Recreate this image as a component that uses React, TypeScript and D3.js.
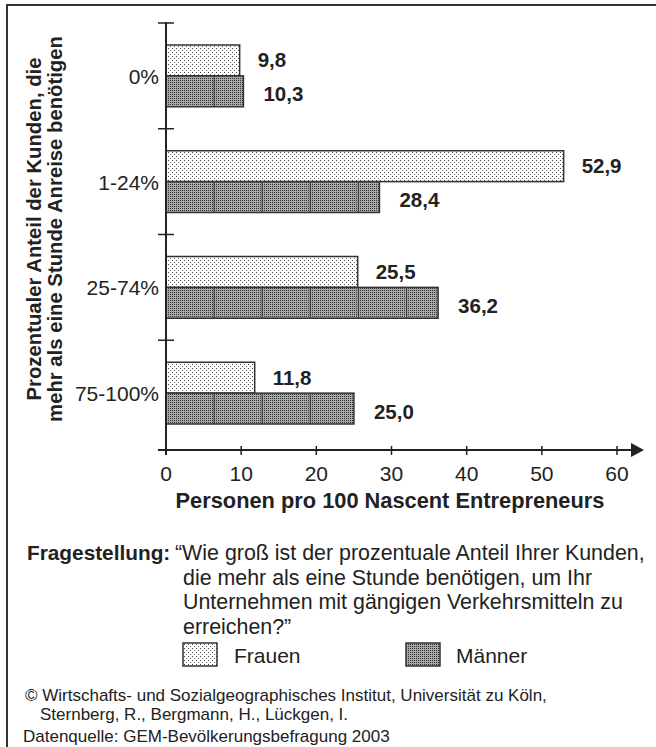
import React, { useEffect } from "react";
import * as d3 from "d3";

const categories = ["0%", "1-24%", "25-74%", "75-100%"];
const series = ["Frauen", "Männer"];
const frauen = [9.8, 52.9, 25.5, 11.8];
const maenner = [10.3, 28.4, 36.2, 25.0];
const xTicks = [0, 10, 20, 30, 40, 50, 60];
const dividerStep = 6.4;
const yTitle = ["Prozentualer Anteil der Kunden, die", "mehr als eine Stunde Anreise benötigen"];
const xTitle = "Personen pro 100 Nascent Entrepreneurs";
const questionLabel = "Fragestellung:";
const questionLines = [
  "“Wie groß ist der prozentuale Anteil Ihrer Kunden,",
  "die mehr als eine Stunde benötigen, um Ihr",
  "Unternehmen mit gängigen Verkehrsmitteln zu",
  "erreichen?”",
];
const copyrightLines = [
  "© Wirtschafts- und Sozialgeographisches Institut, Universität zu Köln,",
  "Sternberg, R., Bergmann, H., Lückgen, I.",
];
const sourceLine = "Datenquelle: GEM-Bevölkerungsbefragung 2003";

const W = 656;
const H = 747;
const FONT = "'Liberation Sans', Arial, Helvetica, sans-serif";
const INK = "#222";

export default function App() {
  useEffect(() => {
    document.body.style.margin = "0";
  }, []);

  const x = d3.scaleLinear().domain([0, 60]).range([166, 617]);
  const y = d3.scaleBand().domain(categories).range([23, 446]).paddingInner(0).paddingOuter(0);
  const bw = y.bandwidth();
  const inner = d3.scaleBand().domain(series).range([22, bw - 22]);
  const bh = inner.bandwidth();

  const fmt = (v: number) => v.toFixed(1).replace(".", ",");
  const boundaries = categories.map((c) => y(c) as number);

  return (
    <svg width={W} height={H} style={{ position: "absolute", left: 0, top: 0, background: "#fff" }} fontFamily={FONT}>
      <defs>
        <pattern id="pF" width="4" height="4" patternUnits="userSpaceOnUse">
          <rect width="4" height="4" fill="#fff" />
          <rect x="0" y="0" width="1" height="1" fill="#444" />
          <rect x="2" y="2" width="1" height="1" fill="#666" />
        </pattern>
        <pattern id="pM" width="2" height="2" patternUnits="userSpaceOnUse">
          <rect width="2" height="2" fill="#a8a8a8" />
          <rect x="0" y="0" width="1" height="1" fill="#333" />
        </pattern>
      </defs>

      {/* outer frame */}
      <rect x={7} y={5} width={W} height={H} fill="none" stroke="#333" strokeWidth={2} />

      {/* bars */}
      {categories.map((c, i) => {
        const y0 = y(c) as number;
        const fy = y0 + (inner("Frauen") as number);
        const my = y0 + (inner("Männer") as number);
        const divs = d3.range(dividerStep, maenner[i], dividerStep);
        return (
          <g key={c}>
            <rect x={x(0)} y={fy} width={x(frauen[i]) - x(0)} height={bh} fill="url(#pF)" stroke="#333" strokeWidth={1.5} />
            <rect x={x(0)} y={my} width={x(maenner[i]) - x(0)} height={bh} fill="url(#pM)" stroke="#333" strokeWidth={1.5} />
            {divs.map((d) => (
              <line key={d} x1={x(d)} x2={x(d)} y1={my} y2={my + bh} stroke="#333" strokeWidth={1} />
            ))}
            <text x={x(frauen[i]) + 18} y={fy + bh / 2 + 7} fontSize={20.5} fontWeight="bold" fill={INK}>
              {fmt(frauen[i])}
            </text>
            <text x={x(maenner[i]) + 20} y={my + bh / 2 + 10} fontSize={20.5} fontWeight="bold" fill={INK}>
              {fmt(maenner[i])}
            </text>
            <text x={159} y={y0 + bw / 2 + 8} fontSize={21} textAnchor="end" fill={INK}>
              {c}
            </text>
          </g>
        );
      })}

      {/* y axis */}
      <line x1={x(0)} x2={x(0)} y1={22} y2={455} stroke={INK} strokeWidth={2} />
      {boundaries.map((b) => (
        <line key={b} x1={158} x2={174} y1={b} y2={b} stroke={INK} strokeWidth={1.5} />
      ))}

      {/* x axis */}
      <line x1={158} x2={634} y1={450} y2={450} stroke={INK} strokeWidth={2} />
      <path d="M631,443 L644,450 L631,457 Z" fill={INK} />
      {xTicks.map((t) => (
        <g key={t}>
          <line x1={x(t)} x2={x(t)} y1={446} y2={455} stroke={INK} strokeWidth={1.5} />
          <text x={x(t)} y={481} fontSize={21} textAnchor="middle" fill={INK}>
            {t}
          </text>
        </g>
      ))}
      <text x={390} y={508} fontSize={21.8} fontWeight="bold" textAnchor="middle" fill={INK}>
        {xTitle}
      </text>

      {/* y title */}
      <g transform="translate(41,229) rotate(-90)">
        <text x={0} y={0} fontSize={20.3} fontWeight="bold" textAnchor="middle" fill={INK}>
          {yTitle[0]}
        </text>
      </g>
      <g transform="translate(62,229) rotate(-90)">
        <text x={0} y={0} fontSize={20.3} fontWeight="bold" textAnchor="middle" fill={INK}>
          {yTitle[1]}
        </text>
      </g>

      {/* question */}
      <text x={27} y={560} fontSize={20.8} fontWeight="bold" fill={INK}>
        {questionLabel}
      </text>
      {questionLines.map((l, i) => (
        <text key={i} x={i === 0 ? 175 : 183} y={560 + i * 24.5} fontSize={21.4} fill={INK}>
          {l}
        </text>
      ))}

      {/* legend */}
      <rect x={183} y={643} width={34} height={23} fill="url(#pF)" stroke="#333" strokeWidth={1.5} />
      <text x={234} y={663} fontSize={21} fill={INK}>
        {series[0]}
      </text>
      <rect x={406} y={643} width={34} height={23} fill="url(#pM)" stroke="#333" strokeWidth={1.5} />
      <text x={456} y={663} fontSize={21} fill={INK}>
        {series[1]}
      </text>

      {/* footer */}
      <text x={25} y={701} fontSize={17} fill={INK}>
        {copyrightLines[0]}
      </text>
      <text x={40} y={720} fontSize={17} fill={INK}>
        {copyrightLines[1]}
      </text>
      <text x={23} y={742} fontSize={17} fill={INK}>
        {sourceLine}
      </text>
    </svg>
  );
}
